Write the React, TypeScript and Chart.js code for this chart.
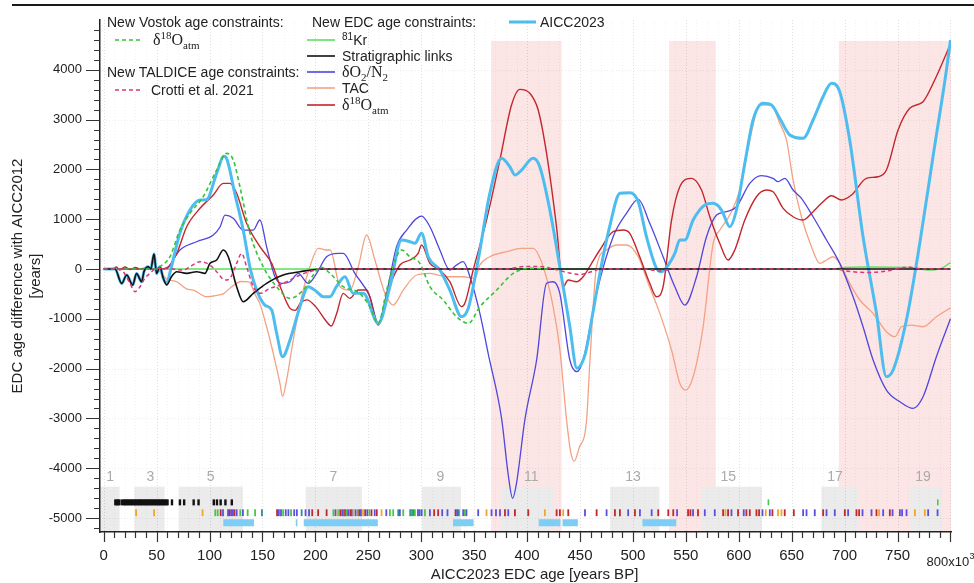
import React, { useEffect, useRef } from 'react';
import { Chart, registerables } from 'chart.js';

Chart.register(...registerables);

const SANS = '"Liberation Sans", Arial, Helvetica, sans-serif';
const SERIF = '"Liberation Serif", "DejaVu Serif", "Times New Roman", serif';

// ---------- age differences (EDC age, kyr BP -> years vs AICC2012) ----------
const aiccAge = [0, 5, 10.7, 17, 21.7, 27.4, 31, 35.9, 38, 42, 44.5, 47.5, 50, 53, 56.3, 59.5, 63, 72, 81.5, 91, 97, 106.7, 113.5, 116.5, 124, 131.8, 138.5, 145, 152.3, 158.7, 163.4, 169, 176, 185.4, 193.2, 201.2, 207.4, 213.8, 220, 227.9, 235.7, 245.2, 259.4, 270.4, 281.4, 289.3, 294, 300.3, 306.6, 317.6, 327, 338.1, 344.4, 353.8, 364.8, 375.9, 383.7, 388.5, 394.8, 405.7, 412, 421.5, 430.9, 440.4, 447, 455, 462, 470, 478, 487.7, 497.1, 505, 512.8, 522.3, 527, 533.3, 539.6, 544.3, 549, 556.9, 568, 575.8, 583.7, 591.5, 597.8, 605.7, 613.5, 623, 630.9, 638.7, 648.2, 660.8, 670.2, 679.6, 687.6, 695.4, 704.8, 717.4, 730.1, 739.5, 745.8, 758.4, 771, 783.5, 796.2, 800];
const aiccDiff = [0, 0, 0, -290, -120, -320, -90, -255, -54, 46, 0, 300, -90, 46, -187, -287, -40, 720, 1185, 1386, 1390, 1920, 2265, 2200, 1500, 783, 0, -450, -723, -823, -1290, -1760, -1425, -757, -355, -455, -556, -556, -350, -155, -488, -488, -1090, -355, 582, 548, 516, 717, 247, -20, -422, -958, -789, 181, 1520, 2223, 2054, 1888, 1988, 2223, 2054, 1185, 46, -1159, -1990, -1700, -900, 50, 850, 1520, 1532, 1351, 649, 14, -54, 80, 315, 582, 582, 984, 1285, 1319, 1185, 850, 1185, 2122, 2992, 3327, 3293, 3026, 2691, 2624, 2992, 3460, 3729, 3561, 2590, 649, -890, -2163, -2028, -1024, 516, 2255, 3996, 4600];

const d18Age = [0, 8, 12, 15, 20, 25, 30, 35, 40, 50, 59.5, 69, 78.4, 91, 103.5, 113, 119.3, 125.6, 135, 147.6, 158.7, 168, 176, 181, 186, 192, 200, 210.6, 215, 220, 226.3, 232.6, 240.5, 248.4, 259.4, 268.8, 279.9, 289.3, 297.1, 300.3, 308.2, 317.6, 327, 338.1, 341.2, 349.1, 361.7, 374.3, 385.3, 393.2, 402.6, 410.5, 418.4, 427.8, 434.1, 438.8, 446.7, 453, 460.9, 468.7, 481.3, 490.8, 497, 506.4, 515.9, 522.3, 528.5, 536.5, 544.3, 555.3, 564.8, 572.6, 582, 589.9, 596.2, 605.7, 616.7, 626.2, 632.4, 641.9, 651.3, 660.8, 670.2, 678.1, 687.6, 697, 706.5, 720.6, 731.6, 739.5, 750.5, 761.5, 774.1, 785.1, 800];
const d18Diff = [0, 0, 40, -20, 40, -10, 30, 0, 20, 0, 14, 315, 850, 1219, 1486, 1720, 1720, 1520, 918, 448, 114, -422, -790, -830, -680, -620, -750, -1058, -1145, -900, -488, -589, -422, -422, -1125, -422, 80, 181, 315, 482, 114, -20, -255, -757, -689, -20, 984, 2189, 3293, 3608, 3528, 3193, 2323, 850, -355, -221, -255, -155, 114, 382, 749, 783, 717, 247, -287, -556, -355, 984, 1653, 1821, 1586, 1050, 516, 181, 382, 984, 1452, 1586, 1552, 1219, 1050, 984, 1151, 1319, 1472, 1386, 1486, 1821, 1853, 1988, 2791, 3227, 3360, 3795, 4520];

const o2n2Age = [0, 55, 61, 72, 87.8, 103.5, 110, 114.6, 122.4, 131.8, 141.3, 147.6, 153.9, 161.8, 168, 176, 183.8, 193.2, 201.2, 210.6, 221.6, 226.3, 237.3, 251.5, 259.4, 267.3, 276.7, 286.2, 300.3, 308.2, 317.6, 327, 333.4, 339.6, 346, 355.4, 363.2, 376, 382, 386.3, 390, 398, 409, 418.4, 424.7, 430.9, 440.4, 447, 453, 465.6, 481.3, 493.9, 505, 515.9, 528.5, 539.6, 549, 560.1, 569.5, 579, 588.4, 597.8, 610.4, 621.4, 632.4, 637.1, 643.5, 651.3, 659.2, 670.2, 682.9, 695.4, 708, 717.4, 726.9, 739.5, 752.2, 764.7, 774.1, 786.7, 800];
const o2n2Diff = [0, 0, 46, 382, 548, 683, 850, 1084, 1018, 783, 783, 984, 448, -155, -287, -255, -87, -287, -87, 247, 315, 315, -87, -556, -1090, -488, 448, 783, 1064, 850, 382, -20, 80, 147, -155, -890, -1693, -3012, -4100, -4604, -4300, -3012, -1827, -287, -255, -488, -1827, -2060, -1827, -488, 649, 1118, 1399, 917, 247, -355, -723, -155, 649, 1084, 1151, 1251, 1720, 1874, 1821, 1753, 1821, 1586, 1419, 1050, 582, 114, -556, -1159, -1827, -2430, -2665, -2797, -2564, -1760, -1000];

const tacAge = [0, 50, 53.2, 59.5, 69, 78.4, 84.6, 97.3, 108.2, 113, 120, 130, 137, 144, 147.6, 153.9, 160.2, 166.5, 169, 172.8, 179.1, 187, 194.8, 202.7, 210.6, 214, 223.2, 232.6, 240.5, 248.4, 256.2, 265.7, 273.5, 283, 295.6, 308.2, 323.9, 339.6, 350.7, 355.4, 364.8, 380.6, 394.8, 405.7, 415.2, 424.6, 431, 437.3, 441, 444.5, 449, 456.2, 459.4, 465.6, 475, 484.5, 494, 505, 514.4, 525.4, 536.5, 544.3, 549.7, 556.9, 566.3, 575.8, 582.1, 591.5, 601, 610.4, 619.8, 630.9, 638.7, 645.1, 651.3, 659.2, 668.7, 676.5, 682.9, 689.1, 695.4, 704.8, 714.3, 726.9, 739.5, 747.4, 753.7, 763.2, 774.1, 786.7, 800];
const tacDiff = [0, 0, -54, -200, -255, -400, -422, -556, -522, -500, -370, -250, -260, -550, -700, -1159, -1693, -2295, -2560, -2229, -1425, -556, 46, 415, 382, 382, -355, -422, 46, 683, 181, -488, -723, -422, -120, -87, -155, -155, -187, 80, 247, 348, 415, 415, 46, -757, -1626, -3030, -3650, -3860, -3600, -3030, -1827, 46, 382, 482, 482, 247, -287, -890, -1627, -2295, -2430, -2162, -1159, 516, 783, 1084, 1586, 2590, 3293, 3293, 2925, 2590, 1787, 1050, 448, 114, 181, 247, 114, -287, -622, -890, -1259, -1359, -1159, -1125, -1159, -958, -780];

const stratAge = [0, 10.7, 17, 21.7, 27.4, 31, 35.9, 38, 42, 44.5, 47.5, 50, 53, 56.3, 59.5, 64, 69, 78.4, 87.8, 95.7, 100.4, 106.7, 113, 117.7, 125.6, 131.8, 141.3, 153.9, 169.6, 185.4, 207.4, 800];
const stratDiff = [0, 0, -290, -120, -320, -90, -255, -54, 46, 0, 300, -90, 46, -187, -321, -155, -54, -87, -54, -87, 114, 181, 382, 247, -355, -656, -488, -287, -120, -54, 0, 0];

const kr81Age = [0, 690, 700, 720, 760, 780, 792, 800];
const kr81Diff = [0, 0, 30, 40, 30, -20, 20, 130];

const vostokAge = [0, 50, 53.2, 62.6, 72, 81.5, 94, 106.7, 116.2, 122.4, 128.7, 138.2, 150.7, 163.4, 176, 188.5, 198, 205, 213.8, 226.3, 241.9, 251.5, 259.4, 267.3, 276.7, 281.4, 289.3, 298.7, 308.2, 320.7, 333.4, 344.4, 355.4, 371.2, 386.9, 402.6, 420];
const vostokDiff = [0, 0, 46, 247, 783, 1118, 1452, 1988, 2323, 2189, 1653, 717, 46, -355, -589, -422, -120, 40, -87, -355, -488, -757, -1090, -422, 247, 382, 247, 114, -355, -622, -958, -1090, -757, -422, -87, 14, 0];

const taldiceAge = [0, 15, 18.5, 24.8, 29.6, 34.3, 39, 44, 50, 65, 75.2, 81.5, 91, 100.4, 106.7, 114.6, 119.3, 125.6, 130.3, 135, 141.3, 147.6, 157, 166.5, 176, 185.4, 194.8, 205, 380, 398, 412, 425, 440, 450, 460, 470, 510, 525, 540, 690, 705, 722, 740, 760, 775, 800];
const taldiceDiff = [0, 0, -54, -287, -455, -355, -187, -80, 14, 0, -20, 46, 147, 80, -54, -221, -187, 114, 315, 46, -355, -488, -388, -321, -221, -120, -54, 0, 0, 50, 50, 0, -80, -110, -60, 0, 0, -40, 0, 0, -50, -70, -40, 40, 0, 0];

// ---------- constraint markers along the bottom ----------
const linkMarkAges = [11, 12.3, 13.6, 14.9, 17.5, 19, 20.3, 21.6, 23, 24.4, 25.7, 27, 28.4, 29.7, 31, 32.4, 33.7, 35, 36.3, 37.6, 39, 40.3, 41.6, 43, 44.3, 45.6, 47, 48.3, 49.6, 51, 52.3, 53.6, 55, 56.3, 57.6, 59, 60.3, 64.5, 72, 76, 85, 89.6, 104, 107, 110.5, 115, 121];
const kr81MarkAges = [628, 788];
const edcMarkAges = [30.6, 47.6, 93.4, 105.4, 107.7, 110.5, 112.7, 117.5, 119, 120.5, 122, 123.5, 125.6, 129, 131.5, 136, 143, 149.5, 163.8, 165.5, 167.5, 169.5, 172, 174.5, 177, 180, 182.5, 187, 190.7, 194, 197, 202.6, 210.6, 217, 219, 221, 222.5, 224, 226, 228, 229.5, 231, 233, 234.5, 236, 238, 240, 241.5, 243, 245, 247, 249, 251, 253, 256, 258, 262.5, 267, 270.4, 273.5, 278.3, 279.8, 283, 289.4, 290.5, 291.5, 292.5, 294, 296.9, 298.5, 300.4, 303.5, 308.2, 312.2, 316, 319.8, 324.8, 332.4, 333.9, 335.5, 339.6, 341.1, 342.7, 353.8, 361.7, 366.4, 370.6, 374.4, 379.1, 382.2, 388.5, 401.1, 416.8, 427.9, 431, 434.1, 438.9, 454.7, 465.7, 475.1, 483, 487.7, 495.5, 501.9, 506.6, 517.7, 523.9, 533.4, 538.1, 541.7, 552.1, 554.3, 556.8, 561.5, 567.9, 577.3, 585.2, 587.4, 589.9, 593.1, 599.3, 604.7, 607.2, 610.4, 616.7, 619.2, 622.4, 625.5, 629.3, 631.8, 637.1, 640.3, 643.4, 652, 660.8, 664, 671.8, 679.7, 682.9, 690.7, 700.2, 703.3, 711.2, 713.7, 716.9, 725.4, 730.1, 732.6, 736.4, 742.7, 745.3, 752.2, 754.3, 758.5, 766.4, 775.8, 778.9, 787.8];
const edcMarkKinds = 'ooo ggrpprpprpgpggt rppgppgpp tpprrr gpogrprgprpopgrporpgrprop ggtpggtgtgpppgprrpp rptpgp poppprprr orror prprrprpprrr prrprpprorprprrrrpoproorrppprpprprrpproprppppoo'
  .replace(/\s+/g, '');
const orbitalBarStart = [113, 181.5, 189, 330, 411, 433.5, 509];
const orbitalBarEnd = [142, 183, 259, 349.5, 431.5, 448, 541];

// ---------- background periods ----------
const misLabels = ['1', '3', '5', '7', '9', '11', '13', '15', '17', '19'];
const misLabelAge = [6, 44, 101, 217, 318, 404, 500, 590, 691, 774];
const misStart = [-3.5, 29, 71, 191, 300.7, 375, 478.5, 564.5, 678, 762];
const misEnd = [15, 57.5, 131.5, 244, 337.6, 424.6, 525, 622, 713, 792];
const warmStart = [366, 534.2, 694.5];
const warmEnd = [432.6, 578.3, 800.5];

const xTickValues = [0, 50, 100, 150, 200, 250, 300, 350, 400, 450, 500, 550, 600, 650, 700, 750, 800];
const yTickValues = [-5000, -4000, -3000, -2000, -1000, 0, 1000, 2000, 3000, 4000];

// levels (years) of the marker rows and shaded boxes
const ROW_LINKS = -4685;
const ROW_EDC = -4893;
const ROW_BARS = -5094;
const MIS_TOP = -4370;
const MIS_LABEL_Y = -4180;
const WARM_TOP = 4580;

const xy = (ages: number[], diffs: number[]) => ages.map((x, i) => ({ x, y: diffs[i] }));

const kindColor: Record<string, string> = {
  o: '#f2a626',
  g: '#46c846',
  r: '#c0282d',
  p: '#5a4fe0',
  t: '#2b8ba3',
};

const curve = (label: string, data: any[], color: string, width: number, dash: number[] = []) => ({
  label,
  data,
  borderColor: color,
  backgroundColor: color,
  borderWidth: width,
  borderDash: dash,
  pointRadius: 0,
  pointHitRadius: 0,
  cubicInterpolationMode: 'monotone',
  fill: false,
});

const markRow = (label: string, data: any[], colors: string[] | string, radius: number, width: number) => ({
  label,
  data,
  showLine: false,
  pointStyle: 'line',
  pointRotation: 90,
  pointRadius: radius,
  pointBorderWidth: width,
  pointBorderColor: colors,
  pointBackgroundColor: colors,
  borderColor: colors,
  pointHitRadius: 0,
});

// keep the tick-label overhang from pushing the plot area inwards
const noEdgePadding = (s: any) => {
  s.paddingTop = 0;
  s.paddingBottom = 0;
  s.paddingLeft = 0;
  s.paddingRight = 0;
};

const backdrop = {
  id: 'backdrop',
  beforeDraw(chart: any) {
    const { ctx, chartArea: a, scales } = chart;
    const x = scales.x;
    const y = scales.y;
    ctx.save();
    // warm intervals
    ctx.fillStyle = '#fce5e5';
    warmStart.forEach((s, i) => {
      const x0 = x.getPixelForValue(s);
      const x1 = Math.min(x.getPixelForValue(warmEnd[i]), a.right);
      const y0 = y.getPixelForValue(WARM_TOP);
      ctx.fillRect(x0, y0, x1 - x0, a.bottom - y0);
    });
    // marine isotope stage boxes
    ctx.fillStyle = '#ebebeb';
    misStart.forEach((s, i) => {
      const x0 = Math.max(x.getPixelForValue(s), a.left);
      const x1 = x.getPixelForValue(misEnd[i]);
      const y0 = y.getPixelForValue(MIS_TOP);
      ctx.fillRect(x0, y0, x1 - x0, a.bottom - y0);
    });
    // dotted grid
    ctx.lineWidth = 1;
    ctx.setLineDash([1, 2]);
    for (let v = 0; v <= 800; v += 10) {
      const px = Math.round(x.getPixelForValue(v)) + 0.5;
      ctx.strokeStyle = v % 50 === 0 ? 'rgba(0,0,0,0.13)' : 'rgba(0,0,0,0.05)';
      ctx.beginPath();
      ctx.moveTo(px, a.top);
      ctx.lineTo(px, a.bottom);
      ctx.stroke();
    }
    ctx.strokeStyle = 'rgba(0,0,0,0.07)';
    yTickValues.forEach((v) => {
      const py = Math.round(y.getPixelForValue(v)) + 0.5;
      ctx.beginPath();
      ctx.moveTo(a.left, py);
      ctx.lineTo(a.right, py);
      ctx.stroke();
    });
    ctx.setLineDash([]);
    // stage numbers
    ctx.fillStyle = '#aaaaaa';
    ctx.font = `14px ${SANS}`;
    ctx.textAlign = 'center';
    ctx.textBaseline = 'middle';
    misLabels.forEach((t, i) => {
      ctx.fillText(t, x.getPixelForValue(misLabelAge[i]), y.getPixelForValue(MIS_LABEL_Y));
    });
    ctx.restore();
  },
  afterDraw(chart: any) {
    const { ctx, chartArea: a, scales } = chart;
    const x = scales.x;
    const y = scales.y;
    ctx.save();
    ctx.strokeStyle = '#333';
    ctx.lineWidth = 1.2;
    ctx.beginPath();
    for (let v = -5200; v <= 4800; v += 200) {
      const py = Math.round(y.getPixelForValue(v)) + 0.5;
      ctx.moveTo(a.left, py);
      ctx.lineTo(a.left - (v % 1000 === 0 ? 14 : 6), py);
    }
    for (let v = 0; v <= 800; v += 10) {
      const px = Math.round(x.getPixelForValue(v)) + 0.5;
      ctx.moveTo(px, a.bottom);
      ctx.lineTo(px, a.bottom + (v % 50 === 0 ? 10 : 6));
    }
    ctx.stroke();

    // last tick label carries the unit multiplier
    ctx.fillStyle = '#222';
    ctx.textBaseline = 'middle';
    ctx.textAlign = 'left';
    ctx.font = `13px ${SANS}`;
    const main = '800x10';
    const w1 = ctx.measureText(main).width;
    const left = x.getPixelForValue(800) - 24;
    ctx.fillText(main, left, a.bottom + 30);
    ctx.font = `9px ${SANS}`;
    ctx.fillText('3', left + w1 + 0.5, a.bottom + 25);

    // x-axis title
    ctx.font = `15px ${SANS}`;
    ctx.textAlign = 'center';
    ctx.fillText('AICC2023 EDC age [years BP]', (a.left + a.right) / 2 + 9, a.bottom + 43);
    ctx.restore();
  },
};

const Label = ({ x, y, children }: { x: number; y: number; children: any }) => (
  <div
    style={{
      position: 'absolute',
      left: x,
      top: y - 10,
      height: 20,
      lineHeight: '20px',
      fontSize: 14,
      whiteSpace: 'nowrap',
      color: '#222',
      fontFamily: SANS,
    }}
  >
    {children}
  </div>
);

const Swatch = ({ x, y, w, color, width, dash }: { x: number; y: number; w: number; color: string; width: number; dash?: string }) => (
  <svg style={{ position: 'absolute', left: x, top: y - 4 }} width={w} height={8}>
    <line x1={0} y1={4} x2={w} y2={4} stroke={color} strokeWidth={width} strokeDasharray={dash} />
  </svg>
);

const supStyle: any = { fontSize: 11, verticalAlign: 'baseline', position: 'relative', top: -6 };
const subStyle: any = { fontSize: 11, verticalAlign: 'baseline', position: 'relative', top: 4 };

const Delta18Oatm = () => (
  <span style={{ fontFamily: SERIF, fontSize: 16 }}>
    δ<sup style={supStyle}>18</sup>O<sub style={subStyle}>atm</sub>
  </span>
);

const DeltaO2N2 = () => (
  <span style={{ fontFamily: SERIF, fontSize: 16 }}>
    δO<sub style={subStyle}>2</sub>/N<sub style={subStyle}>2</sub>
  </span>
);

export default function App() {
  const canvasRef = useRef<HTMLCanvasElement | null>(null);

  useEffect(() => {
    if (!canvasRef.current) return;
    Chart.defaults.font.family = SANS;

    const edcColors = edcMarkAges.map((_, i) => kindColor[edcMarkKinds[i]] ?? kindColor.p);
    const barData = orbitalBarStart.flatMap((s, i) => [
      { x: s, y: ROW_BARS },
      { x: orbitalBarEnd[i], y: ROW_BARS },
      { x: orbitalBarEnd[i], y: null },
    ]);

    const chart = new Chart(canvasRef.current, {
      type: 'line',
      data: {
        datasets: [
          curve('Crotti et al. 2021', xy(taldiceAge, taldiceDiff), '#e0347a', 1.5, [4, 3]),
          curve('Vostok δ18Oatm', xy(vostokAge, vostokDiff), '#35c435', 1.6, [4, 3]),
          curve('Stratigraphic links', xy(stratAge, stratDiff), '#111111', 1.6),
          curve('AICC2023', xy(aiccAge, aiccDiff), '#4dbdf0', 3),
          curve('δ18Oatm', xy(d18Age, d18Diff), '#c1272d', 1.4),
          curve('δO2/N2', xy(o2n2Age, o2n2Diff), '#5046dc', 1.3),
          curve('TAC', xy(tacAge, tacDiff), '#f3a283', 1.3),
          curve('81Kr', xy(kr81Age, kr81Diff), '#5ee05e', 1.4),
          markRow('links', linkMarkAges.map((x) => ({ x, y: ROW_LINKS })), '#111111', 3, 2.4),
          markRow('81Kr markers', kr81MarkAges.map((x) => ({ x, y: ROW_LINKS })), '#46c846', 3, 1.6),
          markRow('EDC markers', edcMarkAges.map((x) => ({ x, y: ROW_EDC })), edcColors, 3.4, 1.8),
          {
            label: 'orbital',
            data: barData,
            borderColor: '#7dcdf5',
            borderWidth: 7,
            borderCapStyle: 'butt',
            pointRadius: 0,
            pointHitRadius: 0,
            spanGaps: false,
          },
        ] as any,
      },
      options: {
        animation: false,
        responsive: false,
        events: [],
        layout: { padding: { left: 0, right: 23, top: 20, bottom: 0 } },
        plugins: { legend: { display: false }, tooltip: { enabled: false } },
        scales: {
          x: {
            type: 'linear',
            min: -3.5,
            max: 800.5,
            afterBuildTicks: (s: any) => {
              s.ticks = xTickValues.map((value) => ({ value }));
            },
            afterFit: (s: any) => {
              s.height = 51;
              noEdgePadding(s);
            },
            grid: { drawOnChartArea: false, drawTicks: false },
            border: { display: true, color: '#222', width: 1.5 },
            ticks: {
              font: { size: 15 },
              color: '#222',
              padding: 15,
              maxRotation: 0,
              autoSkip: false,
              callback: (v: any) => (v === 800 ? '' : String(v)),
            },
          },
          y: {
            type: 'linear',
            min: -5280,
            max: 5000,
            afterBuildTicks: (s: any) => {
              s.ticks = yTickValues.map((value) => ({ value }));
            },
            afterFit: (s: any) => {
              s.width = 100;
              noEdgePadding(s);
            },
            grid: { drawOnChartArea: false, drawTicks: false },
            border: { display: true, color: '#222', width: 1.5 },
            ticks: {
              font: { size: 13 },
              color: '#222',
              padding: 18,
              autoSkip: false,
              callback: (v: any) => String(v),
            },
            title: {
              display: true,
              text: ['EDC age difference with AICC2012', '[years]'],
              font: { size: 15 },
              color: '#222',
              padding: { top: 9, bottom: 0 },
            },
          },
        },
      } as any,
      plugins: [backdrop],
    });

    return () => chart.destroy();
  }, []);

  return (
    <div style={{ position: 'absolute', left: 0, top: 0, width: 974, height: 583, background: '#fff', overflow: 'hidden' }}>
      <canvas ref={canvasRef} width={974} height={583} style={{ position: 'absolute', left: 0, top: 0 }} />
      <div style={{ position: 'absolute', left: 12, top: 4, width: 962, height: 2, background: '#1a1a1a' }} />

      <Label x={107} y={22}>New Vostok age constraints:</Label>
      <Swatch x={115} y={40} w={28} color="#35c435" width={1.6} dash="4 3" />
      <Label x={153} y={40}>
        <Delta18Oatm />
      </Label>
      <Label x={107} y={72}>New TALDICE age constraints:</Label>
      <Swatch x={115} y={89.5} w={28} color="#e0347a" width={1.6} dash="4 3" />
      <Label x={151} y={89.5}>Crotti et al. 2021</Label>

      <Label x={312} y={22}>New EDC age constraints:</Label>
      <Swatch x={307} y={39.5} w={28} color="#5ee05e" width={1.6} />
      <Label x={342} y={39.5}>
        <sup style={{ fontSize: 10, verticalAlign: 'baseline', position: 'relative', top: -5 }}>81</sup>Kr
      </Label>
      <Swatch x={307} y={55.7} w={28} color="#111111" width={1.6} />
      <Label x={342} y={55.7}>Stratigraphic links</Label>
      <Swatch x={307} y={71.5} w={28} color="#5046dc" width={1.6} />
      <Label x={342} y={71.5}>
        <DeltaO2N2 />
      </Label>
      <Swatch x={307} y={88.3} w={28} color="#f3a283" width={1.6} />
      <Label x={342} y={88.3}>TAC</Label>
      <Swatch x={307} y={105} w={28} color="#c1272d" width={1.6} />
      <Label x={342} y={105}>
        <Delta18Oatm />
      </Label>

      <Swatch x={509} y={22} w={27} color="#4dbdf0" width={3} />
      <Label x={540} y={22}>AICC2023</Label>
    </div>
  );
}
